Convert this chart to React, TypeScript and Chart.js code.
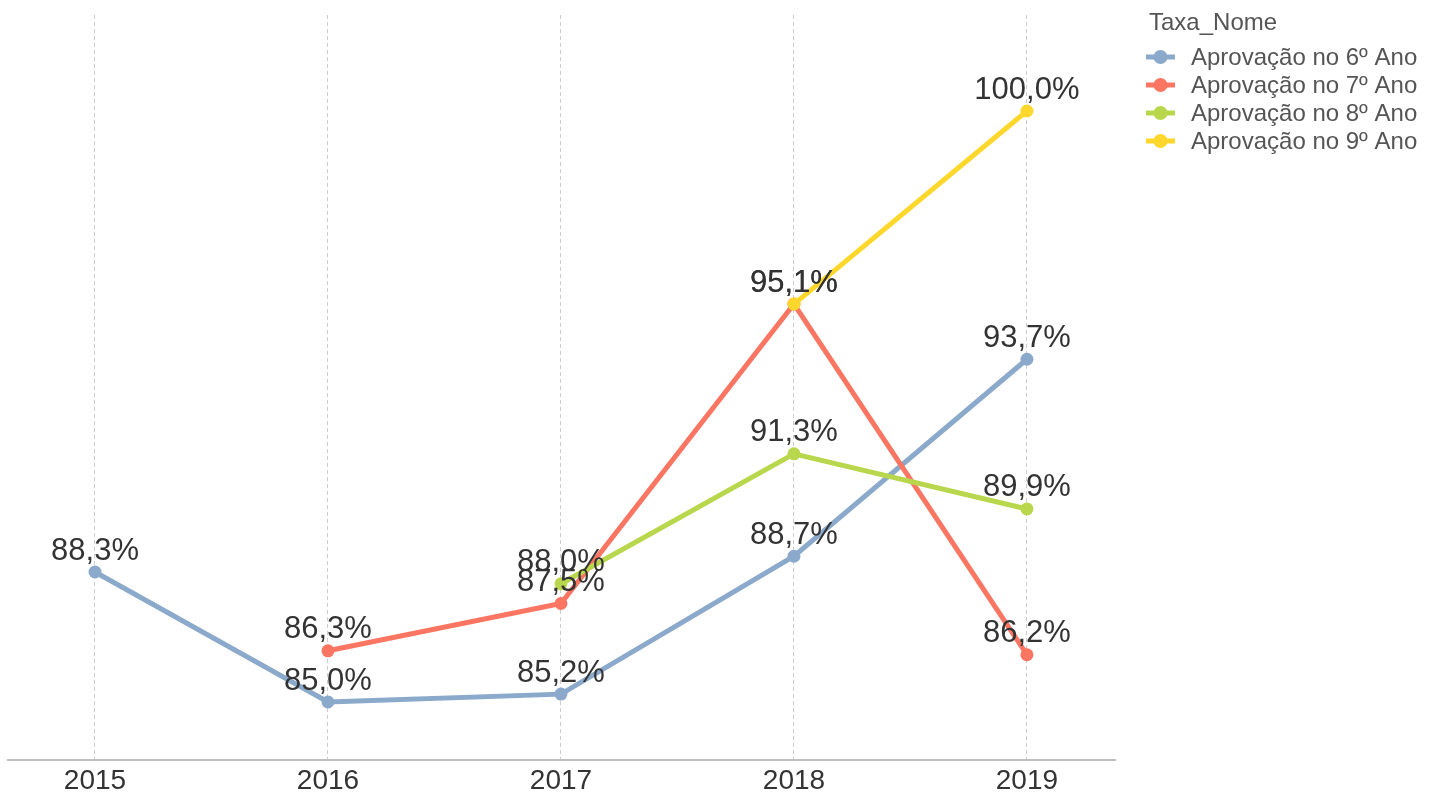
import React, { useEffect, useRef } from "react";
import { Chart, registerables } from "chart.js";

Chart.register(...registerables);

const years = [2015, 2016, 2017, 2018, 2019];
const seriesNames = [
  "Aprovação no 6º Ano",
  "Aprovação no 7º Ano",
  "Aprovação no 8º Ano",
  "Aprovação no 9º Ano",
];
const ano6 = [88.3, 85.0, 85.2, 88.7, 93.7];
const ano7 = [null, 86.3, 87.5, 95.1, 86.2];
const ano8 = [null, null, 88.0, 91.3, 89.9];
const ano9 = [null, null, null, 95.1, 100.0];
const colors = ["#8aa9cb", "#fb7662", "#b9d74c", "#fdd72b"];
const legendTitle = "Taxa_Nome";

const FONT = "'Liberation Sans', Arial, Helvetica, sans-serif";

function toPoints(vals: (number | null)[]) {
  const out: { x: number; y: number }[] = [];
  vals.forEach((v, i) => {
    if (v !== null && v !== undefined) out.push({ x: years[i], y: v });
  });
  return out;
}

const fmt = (v: number) => v.toFixed(1).replace(".", ",") + "%";

const labelPlugin = {
  id: "valueLabels",
  afterDatasetsDraw(chart: any) {
    const ctx = chart.ctx;
    ctx.save();
    ctx.font = `31px ${FONT}`;
    ctx.fillStyle = "#333333";
    ctx.textAlign = "center";
    ctx.textBaseline = "middle";
    chart.data.datasets.forEach((ds: any, di: number) => {
      const meta = chart.getDatasetMeta(di);
      meta.data.forEach((el: any, i: number) => {
        const v = ds.data[i].y;
        ctx.fillText(fmt(v), el.x, el.y - 21);
      });
    });
    ctx.restore();
  },
};

const legendPlugin = {
  id: "customLegend",
  afterDraw(chart: any) {
    const ctx = chart.ctx;
    ctx.save();
    ctx.textBaseline = "middle";
    ctx.textAlign = "left";
    ctx.font = `24px ${FONT}`;
    ctx.fillStyle = "#555555";
    ctx.fillText(legendTitle, 1149, 23);
    chart.data.datasets.forEach((ds: any, i: number) => {
      const y = 57 + i * 28;
      ctx.strokeStyle = ds.borderColor;
      ctx.lineWidth = 5;
      ctx.beginPath();
      ctx.moveTo(1146, y);
      ctx.lineTo(1175, y);
      ctx.stroke();
      ctx.fillStyle = ds.borderColor;
      ctx.beginPath();
      ctx.arc(1160.5, y, 7, 0, Math.PI * 2);
      ctx.fill();
      ctx.fillStyle = "#555555";
      ctx.fillText(ds.label, 1191, y + 1);
    });
    ctx.restore();
  },
};

export default function App() {
  const ref = useRef<HTMLCanvasElement>(null);
  useEffect(() => {
    if (!ref.current) return;
    const all = [ano6, ano7, ano8, ano9];
    const chart = new Chart(ref.current, {
      type: "line",
      data: {
        datasets: all.map((vals, i) => ({
          label: seriesNames[i],
          data: toPoints(vals),
          order: all.length - 1 - i,
          borderColor: colors[i],
          backgroundColor: colors[i],
          borderWidth: 5,
          pointRadius: 6.5,
          pointHoverRadius: 6.5,
          pointBorderWidth: 0,
          tension: 0,
        })),
      },
      options: {
        animation: false,
        responsive: false,
        maintainAspectRatio: false,
        layout: { padding: { left: 8, right: 322, top: 15, bottom: 0 } },
        plugins: { legend: { display: false }, tooltip: { enabled: false } },
        scales: {
          x: {
            type: "linear",
            min: 2014.6266,
            max: 2019.378,
            afterBuildTicks: (axis: any) => {
              axis.ticks = years.map((y) => ({ value: y }));
            },
            afterFit: (axis: any) => {
              axis.height = 36;
            },
            ticks: {
              font: { size: 28, family: FONT },
              color: "#333333",
              padding: 4,
              callback: (v: any) => String(v),
            },
            grid: {
              color: "#cccccc",
              lineWidth: 1,
              drawTicks: false,
            },
            border: { display: true, color: "#bfbfbf", width: 2, dash: [4, 3] as any },
          },
          y: {
            display: false,
            min: 83.528,
            max: 102.437,
          },
        },
      } as any,
      plugins: [labelPlugin, legendPlugin],
    });
    return () => chart.destroy();
  }, []);
  return (
    <div style={{ position: "absolute", left: 0, top: 0, width: 1437, height: 796, background: "#fff" }}>
      <canvas ref={ref} width={1437} height={796} style={{ display: "block" }} />
    </div>
  );
}
